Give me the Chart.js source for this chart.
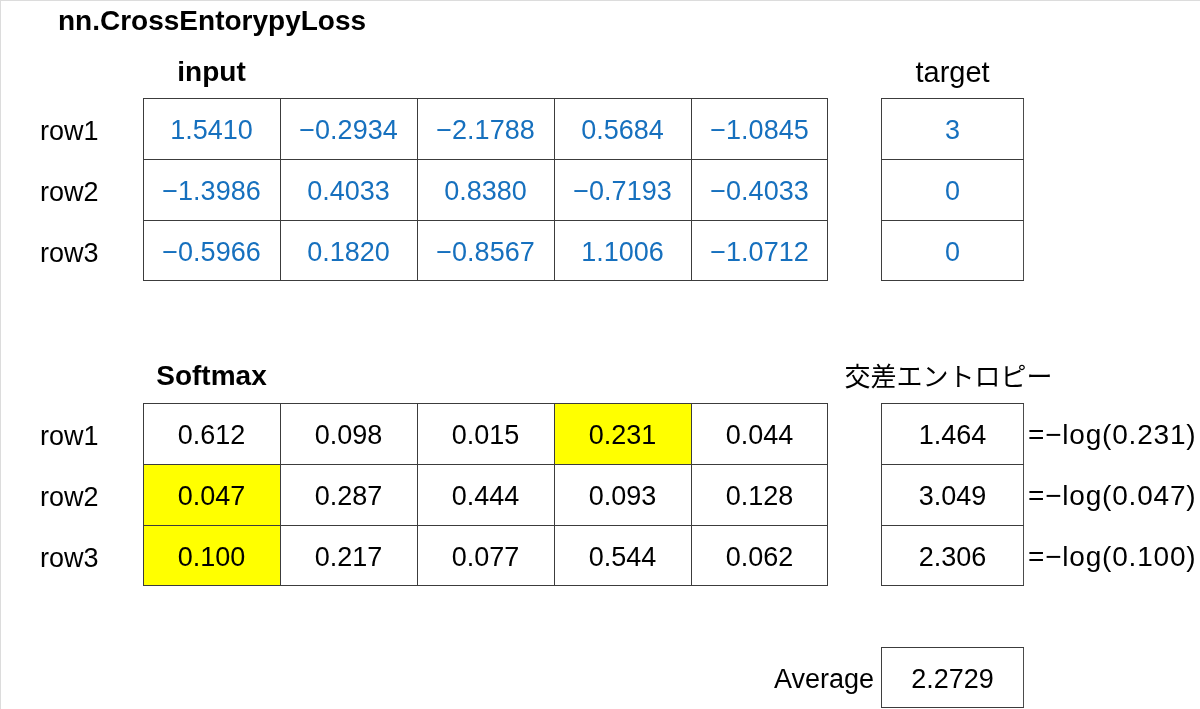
<!DOCTYPE html>
<html>
<head>
<meta charset="utf-8">
<script src="https://cdn.jsdelivr.net/npm/chart.js@4.4.1/dist/chart.umd.min.js"></script>
<style>
  html, body { margin: 0; padding: 0; background: #fff; }
  #wrap { width: 1200px; height: 709px; position: relative; }
</style>
</head>
<body>
<div id="wrap"><canvas id="loss-chart"></canvas></div>
<script>
// ---- data ----
const rowLabels = ['', 'row1', 'row2', 'row3', '', '', 'row1', 'row2', 'row3', '', ''];
const inputValues = [
    [1.5410, -0.2934, -2.1788, 0.5684, -1.0845],
    [-1.3986, 0.4033, 0.8380, -0.7193, -0.4033],
    [-0.5966, 0.1820, -0.8567, 1.1006, -1.0712]
];
const targets = [3, 0, 0];
const softmaxValues = [
    [0.612, 0.098, 0.015, 0.231, 0.044],
    [0.047, 0.287, 0.444, 0.093, 0.128],
    [0.100, 0.217, 0.077, 0.544, 0.062]
];
const crossEntropy = [1.464, 3.049, 2.306];
const averageLoss = 2.2729;
const titleText = 'nn.CrossEntorypyLoss';
const headerTexts = ['input', 'target', 'Softmax', '交差エントロピー'];
const averageLabel = 'Average';

// ---- layout (category index of each block, column spans in cell units) ----
const INPUT_ROW = 1;
const SOFTMAX_ROW = 6;
const AVERAGE_ROW = 10;
const TARGET_SPAN = [5.387, 6.431];
const NUM_COLS = 5;

const BLUE = '#1670be';
const FONT = "'Liberation Sans', 'Noto Sans CJK JP', sans-serif";

function fmt(v, digits) {
    return v.toFixed(digits).replace('-', '\u2212');
}

function isLastRow(idx) {
    return idx === INPUT_ROW + 2 || idx === SOFTMAX_ROW + 2 || idx === AVERAGE_ROW;
}

function cellFill(c) {
    const idx = c.dataIndex;
    const col = c.dataset.col;
    if (idx >= SOFTMAX_ROW && idx < SOFTMAX_ROW + 3 && targets[idx - SOFTMAX_ROW] === col) {
        return '#ffff00';
    }
    return '#ffffff';
}

function cellBorder(c) {
    const lastCol = c.dataset.col === 'target' || c.dataset.col === NUM_COLS - 1;
    return {
        left: 1,
        top: 1,
        right: lastCol ? 1 : 0,
        bottom: isLastRow(c.dataIndex) ? 1 : 0
    };
}

function makeDataset(data, col) {
    return {
        data: data,
        col: col,
        backgroundColor: cellFill,
        borderColor: '#3c3c3c',
        borderWidth: cellBorder,
        borderSkipped: false,
        inflateAmount: 0,
        grouped: false,
        categoryPercentage: 1,
        barPercentage: 1
    };
}

// one dataset per column; each cell is a floating bar [start, end]
const datasets = [];
for (let c = 0; c < NUM_COLS; c++) {
    const data = rowLabels.map(() => null);
    for (let r = 0; r < 3; r++) {
        data[INPUT_ROW + r] = [c, c + 1];
        data[SOFTMAX_ROW + r] = [c, c + 1];
    }
    datasets.push(makeDataset(data, c));
}
const targetData = rowLabels.map(() => null);
for (let r = 0; r < 3; r++) {
    targetData[INPUT_ROW + r] = TARGET_SPAN;
    targetData[SOFTMAX_ROW + r] = TARGET_SPAN;
}
targetData[AVERAGE_ROW] = TARGET_SPAN;
datasets.push(makeDataset(targetData, 'target'));

// text and colour of each cell
function cellInfo(col, idx) {
    if (idx >= INPUT_ROW && idx < INPUT_ROW + 3) {
        const r = idx - INPUT_ROW;
        if (col === 'target') return { text: String(targets[r]), color: BLUE };
        return { text: fmt(inputValues[r][col], 4), color: BLUE };
    }
    if (idx >= SOFTMAX_ROW && idx < SOFTMAX_ROW + 3) {
        const r = idx - SOFTMAX_ROW;
        if (col === 'target') return { text: fmt(crossEntropy[r], 3), color: '#000' };
        return { text: fmt(softmaxValues[r][col], 3), color: '#000' };
    }
    if (idx === AVERAGE_ROW) return { text: fmt(averageLoss, 4), color: '#000' };
    return null;
}

// draws the cell texts, headers and side labels
const tableText = {
    id: 'tableText',
    beforeDraw(chart) {
        const ctx = chart.ctx;
        ctx.save();
        ctx.fillStyle = '#fff';
        ctx.fillRect(0, 0, chart.width, chart.height);
        ctx.fillStyle = '#dcdcdc';
        ctx.fillRect(0, 0, chart.width, 1);
        ctx.fillRect(0, 0, 1, chart.height);
        ctx.restore();
    },
    afterDatasetsDraw(chart) {
        const ctx = chart.ctx;
        const xs = chart.scales.x;
        const ys = chart.scales.y;
        ctx.save();
        ctx.textBaseline = 'middle';
        ctx.textAlign = 'center';
        ctx.font = '27px ' + FONT;
        chart.data.datasets.forEach((ds, i) => {
            const meta = chart.getDatasetMeta(i);
            meta.data.forEach((bar, idx) => {
                if (ds.data[idx] == null) return;
                const info = cellInfo(ds.col, idx);
                if (!info) return;
                const p = bar.getCenterPoint();
                ctx.fillStyle = info.color;
                ctx.fillText(info.text, p.x, p.y + 3);
            });
        });

        // formulas to the right of the cross entropy column
        ctx.fillStyle = '#000';
        ctx.textAlign = 'left';
        ctx.font = '28px ' + FONT;
        ctx.letterSpacing = '0.8px';
        for (let r = 0; r < 3; r++) {
            const p = softmaxValues[r][targets[r]];
            ctx.fillText('=\u2212log(' + fmt(p, 3) + ')', xs.getPixelForValue(TARGET_SPAN[1]) + 4, ys.getPixelForValue(SOFTMAX_ROW + r) + 3);
        }
        ctx.letterSpacing = '0px';
        ctx.font = '27px ' + FONT;
        ctx.textAlign = 'right';
        ctx.fillText(averageLabel, xs.getPixelForValue(TARGET_SPAN[0]) - 7, ys.getPixelForValue(AVERAGE_ROW) + 3);

        // headers
        const tCenter = (TARGET_SPAN[0] + TARGET_SPAN[1]) / 2;
        ctx.textAlign = 'center';
        ctx.font = 'bold 28px ' + FONT;
        ctx.fillText(headerTexts[0], xs.getPixelForValue(0.5), ys.getPixelForValue(INPUT_ROW - 1) + 6);
        ctx.fillText(headerTexts[2], xs.getPixelForValue(0.5), ys.getPixelForValue(SOFTMAX_ROW - 1) + 5);
        ctx.font = '29px ' + FONT;
        ctx.fillText(headerTexts[1], xs.getPixelForValue(tCenter), ys.getPixelForValue(INPUT_ROW - 1) + 6);
        ctx.font = "26px 'Noto Sans CJK JP', sans-serif";
        ctx.fillText(headerTexts[3], xs.getPixelForValue(tCenter) - 4, ys.getPixelForValue(SOFTMAX_ROW - 1) + 4);

        // title
        ctx.textAlign = 'left';
        ctx.font = 'bold 28px ' + FONT;
        ctx.fillText(titleText, 58, 22);
        ctx.restore();
    }
};

const ctx = document.getElementById('loss-chart').getContext('2d');
const lossChart = new Chart(ctx, {
    type: 'bar',
    data: {
        labels: rowLabels,
        datasets: datasets
    },
    options: {
        indexAxis: 'y',
        responsive: true,
        maintainAspectRatio: false,
        animation: false,
        events: [],
        layout: {
            padding: { left: 40, right: 0, top: 37, bottom: 1 }
        },
        plugins: {
            legend: { display: false },
            tooltip: { enabled: false },
            title: { display: false }
        },
        scales: {
            x: {
                type: 'linear',
                display: false,
                min: 0,
                max: 7.7153
            },
            y: {
                type: 'category',
                position: 'left',
                grid: { display: false, drawTicks: false },
                border: { display: false },
                afterFit: (scale) => {
                    scale.width = 103;
                    scale.paddingTop = 0;
                    scale.paddingBottom = 0;
                },
                ticks: {
                    crossAlign: 'far',
                    color: '#000',
                    padding: 0,
                    labelOffset: 4,
                    font: { family: FONT, size: 27 },
                    autoSkip: false
                }
            }
        }
    },
    plugins: [tableText]
});
</script>
</body>
</html>
